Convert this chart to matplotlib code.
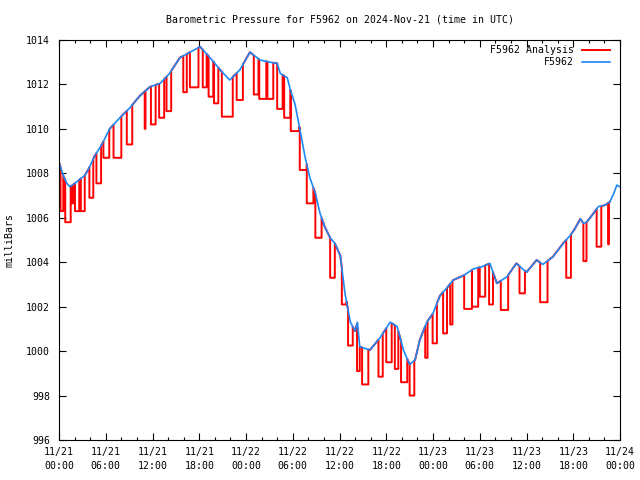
import numpy as np
import pandas as pd
import matplotlib
matplotlib.use("Agg")
import matplotlib.pyplot as plt
import matplotlib.dates as mdates

# ---- data (hours after 2024-11-21 00:00 UTC) ----
blue_hours = [0.0, 0.55, 1.0, 1.4, 2.05, 2.9, 3.3, 3.8, 4.2, 4.6, 5.05, 5.5, 6.5, 7.8, 9.1,
              10.4, 11.7, 13.0, 14.2, 15.5, 16.8, 18.1, 19.4, 20.7, 21.9, 23.2, 24.5, 25.8,
              27.1, 28.0, 28.4, 29.3, 29.7, 30.3, 30.9, 31.6, 32.2, 32.9, 33.5, 34.1, 34.8,
              35.4, 36.1, 36.7, 37.4, 38.0, 38.3, 38.6, 39.9, 41.2, 42.5, 43.4, 44.2, 45.0,
              45.7, 46.3, 47.2, 48.0, 48.9, 49.8, 50.6, 51.9, 53.2, 54.3, 55.3, 56.2, 57.5,
              58.7, 60.0, 61.3, 62.1, 63.4, 64.7, 65.6, 66.2, 66.9, 67.3, 67.7, 68.6, 69.2,
              70.1, 70.7, 71.2, 71.6, 71.95]
blue_mb = [1008.5, 1007.9, 1007.55, 1007.4, 1007.55, 1007.8, 1007.9, 1008.2, 1008.5, 1008.8,
           1009.05, 1009.3, 1010.0, 1010.5, 1010.95, 1011.5, 1011.9, 1012.05, 1012.5, 1013.2,
           1013.45, 1013.7, 1013.2, 1012.65, 1012.2, 1012.65, 1013.45, 1013.1, 1013.0, 1012.95,
           1012.5, 1012.3, 1011.75, 1011.1, 1010.0, 1008.7, 1007.8, 1007.1, 1006.2, 1005.6,
           1005.1, 1004.85, 1004.3, 1002.6, 1001.3, 1000.9, 1001.3, 1000.2, 1000.05, 1000.6,
           1001.3, 1001.1, 1000.05, 999.4, 999.6, 1000.5, 1001.3, 1001.7, 1002.5, 1002.85,
           1003.2, 1003.4, 1003.7, 1003.8, 1003.95, 1003.05, 1003.35, 1003.95, 1003.55, 1004.1,
           1003.9, 1004.25, 1004.85, 1005.2, 1005.5, 1005.95, 1005.75, 1005.8, 1006.2, 1006.5,
           1006.57, 1006.72, 1007.1, 1007.47, 1007.4]

# Analysis series: follows the station but drops to lower levels over these intervals
drop_start = [0.2, 0.8, 1.6, 2.05, 2.8, 3.9, 4.8, 5.7, 7.0, 8.7, 11.0, 11.8, 12.85, 13.8,
              15.95, 16.8, 18.45, 19.2, 19.9, 20.9, 22.8, 25.0, 25.7, 26.75, 28.0, 28.9,
              29.75, 30.9, 31.8, 32.9, 34.8, 36.3, 37.1, 38.25, 38.9, 41.0, 42.0, 43.1, 43.9,
              45.0, 47.0, 47.95, 49.3, 50.2, 52.0, 53.0, 54.0, 55.2, 56.7, 59.1, 61.75, 65.1,
              67.3, 69.0, 70.5]
drop_end = [0.55, 1.5, 1.85, 2.6, 3.3, 4.4, 5.4, 6.45, 8.0, 9.4, 11.1, 12.4, 13.5, 14.4,
            16.4, 17.9, 18.95, 19.8, 20.45, 22.3, 23.6, 25.6, 26.6, 27.5, 28.7, 29.7,
            30.85, 31.8, 32.65, 33.7, 35.4, 36.9, 37.7, 38.6, 39.7, 41.55, 42.7, 43.55, 44.7,
            45.6, 47.3, 48.5, 49.8, 50.5, 53.0, 53.8, 54.7, 55.7, 57.65, 59.8, 62.7, 65.7,
            67.7, 69.6, 70.55]
drop_mb = [1006.3, 1005.8, 1006.65, 1006.3, 1006.3, 1006.9, 1007.55, 1008.7, 1008.7, 1009.3,
           1010.0, 1010.2, 1010.5, 1010.8, 1011.65, 1011.87, 1011.87, 1011.45, 1011.15, 1010.55,
           1011.3, 1011.55, 1011.35, 1011.35, 1010.9, 1010.5, 1009.9, 1008.15, 1006.65, 1005.1,
           1003.3, 1002.1, 1000.25, 999.1, 998.5, 998.85, 999.5, 999.2, 998.6, 998.0, 999.7,
           1000.35, 1000.8, 1001.2, 1001.9, 1002.0, 1002.45, 1002.1, 1001.85, 1002.6, 1002.2,
           1003.3, 1004.05, 1004.7, 1004.8]
red_end_hour = 70.7

start = pd.Timestamp("2024-11-21 00:00")

# ---- build analysis path ----
bh = np.array(blue_hours)
bp = np.array(blue_mb)
def base(t):
    return float(np.interp(t, bh, bp))

rt, rp = [], []
cur = 0.0
for t0, t1, v in zip(drop_start, drop_end, drop_mb):
    for h, p in zip(bh, bp):
        if cur <= h < t0:
            rt.append(h); rp.append(p)
    rt += [t0, t0, t1, t1]
    rp += [base(t0), v, v, base(t1)]
    cur = t1
for h, p in zip(bh, bp):
    if cur < h < red_end_hour:
        rt.append(h); rp.append(p)
rt.append(red_end_hour); rp.append(base(red_end_hour))

def to_dt(hours):
    return start + pd.to_timedelta(np.array(hours), unit="h")

# ---- plot ----
FS = 7.1
FONT = "DejaVu Sans Mono"
plt.rcParams["font.family"] = FONT
fig = plt.figure(figsize=(6.4, 4.8), dpi=100)
ax = fig.add_axes([59/640, 40/480, 561/640, 400/480])

ax.plot(to_dt(rt), rp, color="#ff0000", lw=1.4, label="F5962 Analysis")
ax.plot(to_dt(bh), bp, color="#1e88f5", lw=1.2, label="F5962")

ax.set_ylim(996, 1014)
ax.set_yticks(np.arange(996, 1015, 2))
ax.set_xlim(start, start + pd.Timedelta(hours=72))
ax.xaxis.set_major_locator(mdates.HourLocator(byhour=[0, 6, 12, 18]))
ax.xaxis.set_minor_locator(mdates.HourLocator(interval=2))
ax.xaxis.set_major_formatter(mdates.DateFormatter("%m/%d\n%H:%M"))

ax.tick_params(axis="both", which="both", direction="in", top=True, right=True,
               labelsize=FS, width=0.8)
ax.tick_params(axis="both", which="major", length=5)
ax.tick_params(axis="both", which="minor", length=2.5)
ax.tick_params(axis="y", pad=6.5)
ax.tick_params(axis="x", pad=5)
for lbl in ax.get_xticklabels():
    lbl.set_linespacing(1.5)
for s in ax.spines.values():
    s.set_linewidth(0.8)

fig.text(339.5/640, 1 - 20/480, "Barometric Pressure for F5962 on 2024-Nov-21 (time in UTC)",
         ha="center", va="center", fontsize=FS)
fig.text(10/640, 0.5, "milliBars", rotation=90, ha="center", va="center", fontsize=FS)

ax.legend(loc="upper right", bbox_to_anchor=(1 - 10/561, 1 - 5/400), frameon=False,
          markerfirst=False, fontsize=FS, handlelength=2.85, handletextpad=0.8,
          borderpad=0, borderaxespad=0, labelspacing=0.25)

fig.savefig("out.png", dpi=100)
